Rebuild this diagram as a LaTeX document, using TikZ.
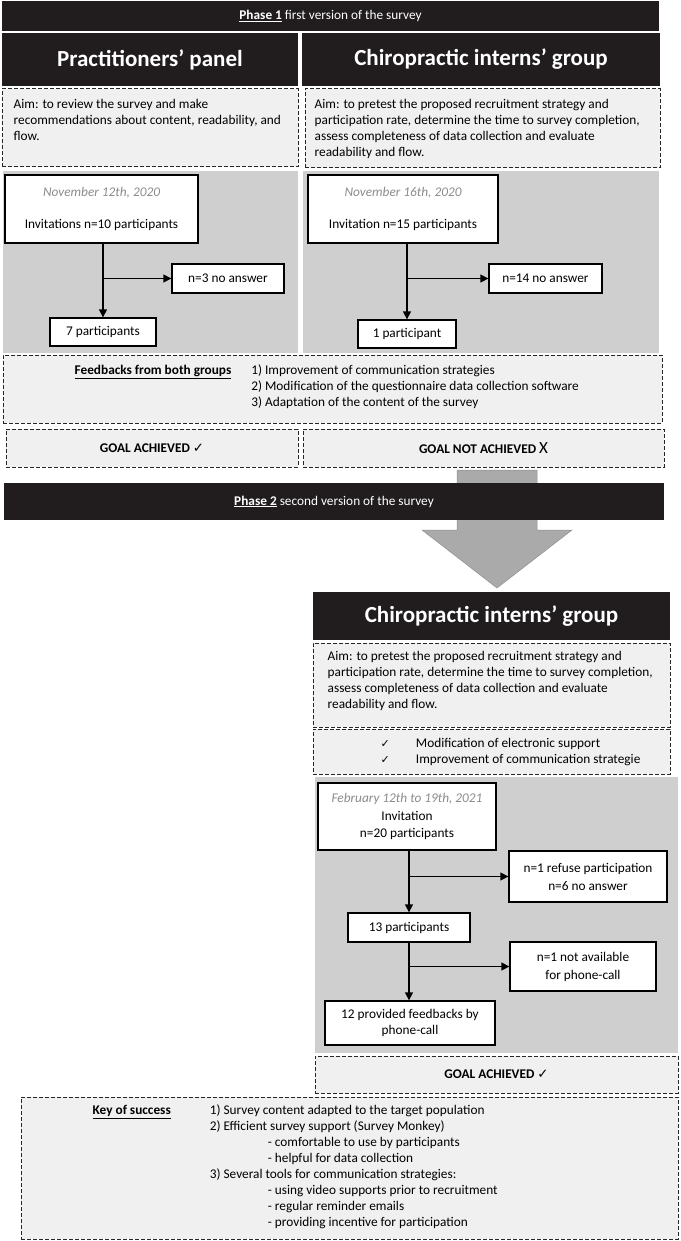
\documentclass[tikz,border=0pt]{standalone}
\usepackage{fontspec}
\setmainfont{Carlito}
\newfontfamily\symfont{DejaVu Sans}
\usetikzlibrary{arrows.meta,positioning}
\definecolor{barblack}{RGB}{33,29,30}
\definecolor{panelgray}{RGB}{207,207,207}
\definecolor{boxgray}{RGB}{240,240,240}
\definecolor{dategray}{RGB}{140,140,140}
\definecolor{arrowgray}{RGB}{170,170,170}
\tikzset{
  phasebar/.style={fill=barblack,text=white,inner sep=0pt,font=\fontsize{13.3}{16}\selectfont},
  header/.style={fill=barblack,text=white,inner sep=0pt,font=\fontsize{23}{26}\selectfont\bfseries},
  dashbox/.style={draw=black!85,fill=boxgray,line width=1pt,dash pattern=on 4pt off 2pt,inner sep=0pt},
  panel/.style={fill=panelgray,inner sep=0pt},
  stepbox/.style={draw,fill=white,line width=1.3pt,inner sep=0pt,align=center,font=\fontsize{13.3}{16}\selectfont},
  bodytext/.style={inner sep=0pt,align=left,font=\fontsize{13.3}{16}\selectfont},
  goal/.style={dashbox,font=\fontsize{13.3}{16}\selectfont\bfseries},
  flow/.style={line width=1.3pt,-{Triangle[length=8pt,width=8pt]}}
}
\newcommand{\datetext}[1]{{\color{dategray}\itshape #1}}

\begin{document}
\begin{tikzpicture}[x=1pt,y=1pt]
  \useasboundingbox (0,0) rectangle (680,-1241);

  \node[phasebar,minimum width=657pt,minimum height=30pt] (phaseA) at (330.5,-16) {\underline{\textbf{Phase 1}} first version of the survey};
  \node[header,minimum width=296pt,minimum height=53pt] (headPrac) at (150,-59.5) {Practitioners’ panel};
  \node[header,minimum width=358pt,minimum height=53pt] (headChiro) at (481,-59.5) {Chiropractic interns’ group};

  \node[dashbox,minimum width=296pt,minimum height=78pt] (aimPrac) at (150,-128) {};
  \node[bodytext,anchor=north west] (aimPracText) at ([xshift=12pt,yshift=-11pt]aimPrac.north west) {Aim: to review the survey and make\\recommendations about content, readability, and\\flow.};
  \node[dashbox,minimum width=355pt,minimum height=79pt] (aimChiro) at (482.5,-128.5) {};
  \node[bodytext,anchor=north west] (aimChiroText) at ([xshift=10pt,yshift=-11pt]aimChiro.north west) {Aim: to pretest the proposed recruitment strategy and\\participation rate, determine the time to survey completion,\\assess completeness of data collection and evaluate\\readability and flow.};

  \node[panel,minimum width=295pt,minimum height=182pt] (panelPrac) at (150.5,-262) {};
  \node[panel,minimum width=356pt,minimum height=182pt] (panelChiro) at (481,-262) {};

  \node[stepbox,minimum width=193pt,minimum height=68pt] (invPrac) at (101.5,-209) {\datetext{November 12th, 2020}\\[16pt]Invitations n=10 participants};
  \node[stepbox,minimum width=106pt,minimum height=28pt] (partPrac) at (103,-332) {7 participants};
  \node[stepbox,minimum width=112pt,minimum height=29pt] (noansPrac) at (228,-278.5) {n=3 no answer};
  \draw[flow] (invPrac.south -| partPrac.north) -- (partPrac.north);
  \draw[flow] (partPrac.north |- noansPrac.west) -- (noansPrac.west);

  \node[stepbox,minimum width=190pt,minimum height=68pt] (invChiro) at (403,-209) {\datetext{November 16th, 2020}\\[16pt]Invitation n=15 participants};
  \node[stepbox,minimum width=98pt,minimum height=28pt] (partChiro) at (407,-334) {1 participant};
  \node[stepbox,minimum width=113pt,minimum height=29pt] (noansChiro) at (545.5,-278.5) {n=14 no answer};
  \draw[flow] (invChiro.south -| partChiro.north) -- (partChiro.north);
  \draw[flow] (partChiro.north |- noansChiro.west) -- (noansChiro.west);

  \node[dashbox,minimum width=659pt,minimum height=68pt] (feedback) at (332.5,-389) {};
  \node[bodytext,anchor=north west] (feedbackText) at ([xshift=72pt,yshift=-9pt]feedback.north west) {\begin{tabular}{@{}l@{\hspace{20pt}}l@{}}
    \underline{\textbf{Feedbacks from both groups}} & 1) Improvement of communication strategies\\
    & 2) Modification of the questionnaire data collection software\\
    & 3) Adaptation of the content of the survey
  \end{tabular}};

  \node[goal,minimum width=292pt,minimum height=38pt] (goalPrac) at (152,-448) {GOAL ACHIEVED {\symfont\mdseries ✓}};
  \node[goal,minimum width=361pt,minimum height=38pt] (goalChiro) at (483.5,-448) {GOAL NOT ACHIEVED {\mdseries\fontsize{17}{16}\selectfont X}};

  \filldraw[fill=arrowgray,draw=arrowgray!85!black,line width=0.5pt] (457,-470) -- (537,-470) -- (537,-530) -- (572,-530) -- (497,-588) -- (422,-530) -- (457,-530) -- cycle;
  \node[phasebar,minimum width=660pt,minimum height=37pt] (phaseB) at (334,-501.5) {\underline{\textbf{Phase 2}} second version of the survey};

  \node[header,minimum width=357pt,minimum height=48pt] (headChiroB) at (491.5,-616) {Chiropractic interns’ group};
  \node[dashbox,minimum width=357pt,minimum height=84pt] (aimChiroB) at (491.5,-685) {};
  \node[bodytext,anchor=north west] (aimChiroBText) at ([xshift=15pt,yshift=-9pt]aimChiroB.north west) {Aim: to pretest the proposed recruitment strategy and\\participation rate, determine the time to survey completion,\\assess completeness of data collection and evaluate\\readability and flow.};
  \node[dashbox,minimum width=357pt,minimum height=45pt] (changesB) at (491.5,-751.5) {};
  \node[bodytext,anchor=north west] (changesBText) at ([xshift=68pt,yshift=-8pt]changesB.north west) {\begin{tabular}{@{}l@{\hspace{26pt}}l@{}}
    {\symfont\fontsize{11}{16}\selectfont ✓} & Modification of electronic support\\
    {\symfont\fontsize{11}{16}\selectfont ✓} & Improvement of communication strategie
  \end{tabular}};

  \node[panel,minimum width=363pt,minimum height=276pt] (panelB) at (496.5,-915) {};
  \node[stepbox,minimum width=178pt,minimum height=67pt,font=\fontsize{13.3}{17.5}\selectfont] (invB) at (407,-816.5) {\datetext{February 12th to 19th, 2021}\\Invitation\\n=20 participants};
  \node[stepbox,minimum width=158pt,minimum height=51pt,font=\fontsize{13.3}{18}\selectfont] (refuseB) at (588,-876.5) {n=1 refuse participation\\n=6 no answer};
  \node[stepbox,minimum width=122pt,minimum height=29pt] (partB) at (409,-927.5) {13 participants};
  \node[stepbox,minimum width=146pt,minimum height=49pt,font=\fontsize{13.3}{18}\selectfont] (unavailB) at (583,-966.5) {n=1 not available\\for phone-call};
  \node[stepbox,minimum width=170pt,minimum height=44pt] (phoneB) at (410,-1023) {12 provided feedbacks by\\phone-call};
  \draw[flow] (invB.south -| partB.north) -- (partB.north);
  \draw[flow] (partB.north |- refuseB.west) -- (refuseB.west);
  \draw[flow] (partB.south) -- (phoneB.north -| partB.south);
  \draw[flow] (partB.south |- unavailB.west) -- (unavailB.west);

  \node[goal,minimum width=363pt,minimum height=37pt] (goalB) at (496.5,-1074.5) {GOAL ACHIEVED {\symfont\mdseries ✓}};

  \node[dashbox,minimum width=657pt,minimum height=142pt] (keys) at (349.5,-1168) {};
  \node[bodytext,anchor=north west] (keysText) at ([xshift=72pt,yshift=-7pt]keys.north west) {\begin{tabular}{@{}l@{\hspace{39pt}}l@{}}
    \underline{\textbf{Key of success}} & 1) Survey content adapted to the target population\\
    & 2) Efficient survey support (Survey Monkey)\\
    & \hspace{58pt}- comfortable to use by participants\\
    & \hspace{58pt}- helpful for data collection\\
    & 3) Several tools for communication strategies:\\
    & \hspace{58pt}- using video supports prior to recruitment\\
    & \hspace{58pt}- regular reminder emails\\
    & \hspace{58pt}- providing incentive for participation
  \end{tabular}};
\end{tikzpicture}
\end{document}
